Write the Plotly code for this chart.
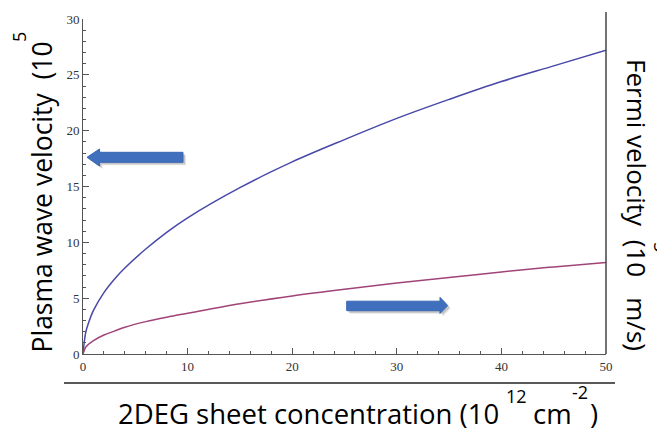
import plotly.graph_objects as go

# ---- data ----
concentration = [0, 0.25, 0.5, 1, 2, 3, 4, 6, 8, 10, 15, 20, 25, 30, 35, 40, 45, 50]
plasma_velocity = [0, 1.9, 2.7, 3.9, 5.5, 6.7, 7.7, 9.4, 10.9, 12.2, 14.9, 17.2, 19.2, 21.1, 22.8, 24.4, 25.8, 27.2]
fermi_velocity = [0, 0.6, 0.85, 1.2, 1.7, 2.05, 2.4, 2.9, 3.3, 3.65, 4.5, 5.2, 5.8, 6.35, 6.85, 7.35, 7.8, 8.2]
x_ticks = [0, 10, 20, 30, 40, 50]
y_ticks = [0, 5, 10, 15, 20, 25, 30]

W, H = 657, 433
ML, MR, MT, MB = 83, 51, 19, 79
X0, X1 = 0, 50
Y0, Y1 = 0, 30
PW, PH = W - ML - MR, H - MT - MB

def dx(px):
    return X0 + (px - ML) / PW * (X1 - X0)

def dy(py):
    return Y0 + (H - MB - py) / PH * (Y1 - Y0)

fig = go.Figure()
fig.add_trace(go.Scatter(x=concentration, y=plasma_velocity, mode="lines",
                         line=dict(color="#4848a8", width=1.5, shape="spline"),
                         showlegend=False, hoverinfo="skip"))
fig.add_trace(go.Scatter(x=concentration, y=fermi_velocity, mode="lines",
                         line=dict(color="#a04478", width=1.5, shape="spline"),
                         showlegend=False, hoverinfo="skip"))

tickfont = dict(family="Liberation Serif", size=13, color="#333333")
fig.update_xaxes(range=[X0, X1], tickvals=x_ticks, ticks="inside", ticklen=6,
                 tickcolor="#555", showline=True, linecolor="#555", linewidth=1,
                 showgrid=False, zeroline=False, tickfont=tickfont,
                 minor=dict(dtick=2, ticks="inside", ticklen=3, tickcolor="#555"))
fig.update_yaxes(range=[Y0, Y1], tickvals=y_ticks, ticks="inside", ticklen=6,
                 tickcolor="#555", showline=True, linecolor="#555", linewidth=1,
                 showgrid=False, zeroline=False, tickfont=tickfont,
                 minor=dict(dtick=1, ticks="inside", ticklen=3, tickcolor="#555"))

shapes = []
# right-hand vertical axis line
shapes.append(dict(type="line", xref="paper", yref="paper", x0=1, x1=1, y0=0,
                   y1=1 + 7 / PH, line=dict(color="#444", width=1.5)))
# horizontal rule under tick labels
shapes.append(dict(type="line", xref="paper", yref="paper",
                   x0=(64 - ML) / PW, x1=(615 - ML) / PW,
                   y0=(H - MB - 383) / PH, y1=(H - MB - 383) / PH,
                   line=dict(color="#222", width=1.5)))


def arrow_path(pts):
    return "M " + " L ".join(f"{dx(px):.4f},{dy(py):.4f}" for px, py in pts) + " Z"

left_arrow = [(87, 157.3), (99.5, 149), (99.5, 152.3), (183, 152.3), (183, 162.3),
              (99.5, 162.3), (99.5, 166)]
right_arrow = [(447.7, 305.5), (440, 297.3), (440, 301.2), (346.7, 301.2), (346.7, 310.7),
               (440, 310.7), (440, 313.5)]
for pts in (left_arrow, right_arrow):
    for off, col in ((3.0, "rgba(0,0,0,0.10)"), (2.0, "rgba(0,0,0,0.15)")):
        sh = [(px + off, py + off) for px, py in pts]
        shapes.append(dict(type="path", xref="x", yref="y", path=arrow_path(sh),
                           fillcolor=col, line=dict(width=0), layer="above"))
    shapes.append(dict(type="path", xref="x", yref="y", path=arrow_path(pts),
                       fillcolor="#3f6fbd", line=dict(color="#3a68b3", width=1), layer="above"))

TF = "Open Sans"
TS = 27.5
SS = 18
def ann(text, px, py, size, angle=0, xanchor="center", yanchor="middle"):
    return dict(text=text, xref="paper", yref="paper", x=(px - ML) / PW,
                y=(H - MB - py) / PH, xanchor=xanchor, yanchor=yanchor,
                showarrow=False, textangle=angle,
                font=dict(family=TF, size=size, color="#000"))

annotations = [
    ann("2DEG sheet concentration (10", 501, 413, TS, xanchor="right"),
    ann("12", 516, 396, SS),
    ann("cm", 552, 413, TS),
    ann("-2", 580, 392, SS),
    ann(")", 594, 413, TS),
    ann("Plasma wave velocity\u00a0\u00a0(10", 41, 355, 26.5, angle=-90, yanchor="bottom"),
    ann("5", 19, 37, SS, angle=-90),
    ann("Fermi velocity\u00a0\u00a0(10\u00a0\u00a0\u00a0m/s)", 637, 205, 26, angle=90),
    ann("5", 661, 247, SS, angle=90),
]

fig.update_layout(width=W, height=H, margin=dict(l=ML, r=MR, t=MT, b=MB),
                  plot_bgcolor="white", paper_bgcolor="white",
                  shapes=shapes, annotations=annotations)

fig.write_html("out.html", config={"displayModeBar": False},
               post_script="document.body.style.margin='0';document.body.style.overflow='hidden';")
